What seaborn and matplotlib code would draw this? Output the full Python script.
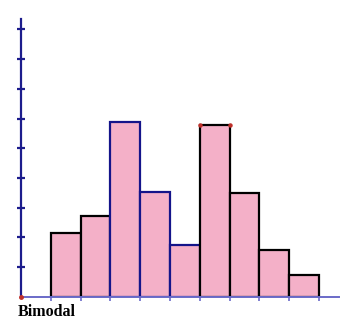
import numpy as np
import pandas as pd
import matplotlib
matplotlib.use("Agg")
import matplotlib.pyplot as plt
import seaborn as sns

# Histogram bins (edges) and bar heights
bin_edges = [1, 2, 3, 4, 5, 6, 7, 8, 9, 10]
heights = [2.13, 2.72, 5.89, 3.52, 1.75, 5.79, 3.49, 1.57, 0.73]
edge_colors = ["black", "black", "#14148a", "#14148a", "#14148a",
               "black", "black", "black", "black"]
y_ticks = [1, 2, 3, 4, 5, 6, 7, 8, 9]
title = "Bimodal"

centers = [(a + b) / 2 for a, b in zip(bin_edges[:-1], bin_edges[1:])]
df = pd.DataFrame({"value": centers, "count": heights})

sns.set_style("white")
fig = plt.figure(figsize=(3.56, 3.30), dpi=100)
W, H = 356, 330
x0, x1 = 21, 339
y0, y1 = 296.7, 19
ax = fig.add_axes([x0 / W, 1 - y0 / H, (x1 - x0) / W, (y0 - y1) / H])

sns.histplot(data=df, x="value", weights="count", bins=bin_edges,
             color="#f4b0c8", alpha=1, edgecolor="black", linewidth=1.6,
             ax=ax)

for patch, ec in zip(ax.patches, edge_colors):
    patch.set_edgecolor(ec)

ax.set_xlim(0, (x1 - x0) / 29.8)
ax.set_ylim(0, (y0 - y1) / 29.7)

for side in ["top", "right"]:
    ax.spines[side].set_visible(False)
ax.spines["left"].set_color("#1c1c8c")
ax.spines["left"].set_linewidth(1.6)
ax.spines["bottom"].set_color("#6a6ac8")
ax.spines["bottom"].set_linewidth(1.4)
ax.spines["left"].set_zorder(0.5)

ax.set_yticks(y_ticks)
ax.set_yticklabels([])
ax.tick_params(axis="y", direction="inout", length=6, width=1.6,
               color="#1c1c8c", left=True)
ax.set_xticks(bin_edges)
ax.set_xticklabels([])
ax.tick_params(axis="x", direction="out", length=3, width=1.2,
               color="#6a6ac8", bottom=True)
ax.set_xlabel("")
ax.set_ylabel("")

# corner markers
ax.plot([0], [0], "o", color="#c0302a", markersize=2.5, clip_on=False, zorder=5)
ax.plot([bin_edges[5], bin_edges[6]], [heights[5], heights[5]], "o",
        color="#c0302a", markersize=2.2, clip_on=False, zorder=5)

fig.text(18 / W, 1 - 316 / H, title, fontsize=11.5, fontweight="bold",
         family="Liberation Serif", color="black", ha="left", va="baseline")

fig.savefig("out.png", dpi=100)
